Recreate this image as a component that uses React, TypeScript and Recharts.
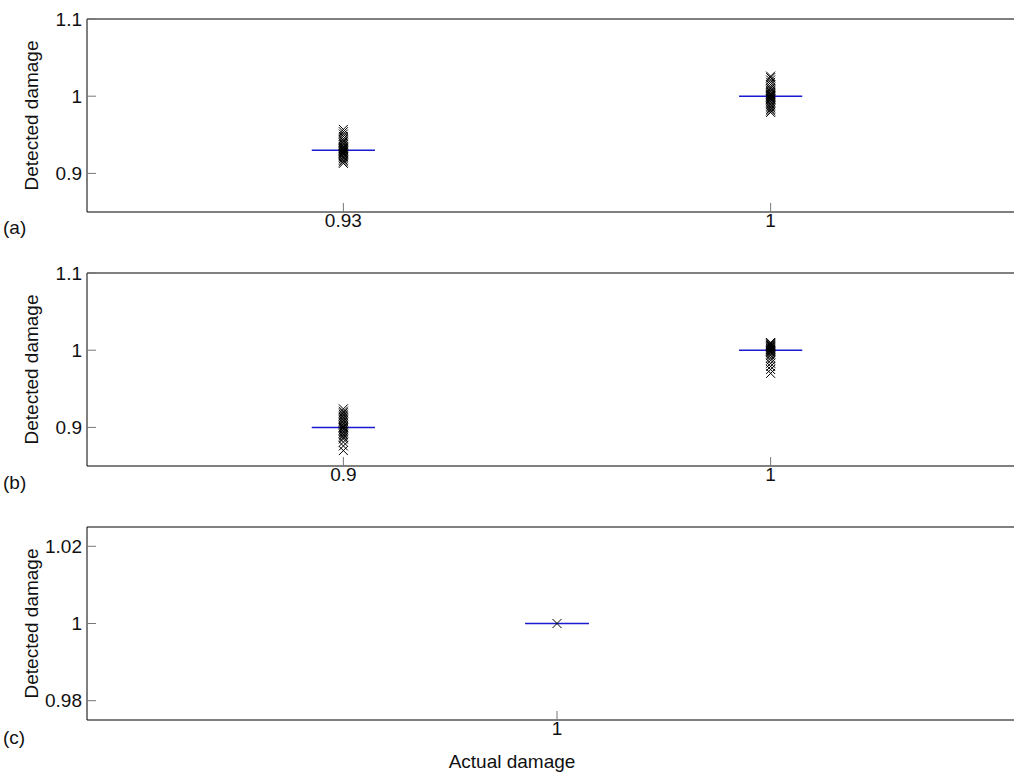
import React from 'react';
import { ComposedChart, Scatter, XAxis, YAxis, ReferenceLine } from 'recharts';

const FONT = '"Liberation Sans", Arial, Helvetica, sans-serif';
const FS = 19;

// Panel (a)
const panelAPositions = [1, 2];
const panelATickLabels = ['0.93', '1'];
const panelAMedians = [0.93, 1];
const panelAGroup1 = [0.913, 0.915, 0.917, 0.919, 0.921, 0.922, 0.924, 0.925, 0.926, 0.927, 0.928, 0.929, 0.93, 0.931, 0.932, 0.933, 0.934, 0.935, 0.937, 0.939, 0.941, 0.943, 0.945, 0.948, 0.951, 0.954, 0.957];
const panelAGroup2 = [0.979, 0.981, 0.983, 0.985, 0.987, 0.989, 0.991, 0.993, 0.995, 0.996, 0.997, 0.998, 0.999, 1.0, 1.001, 1.002, 1.003, 1.004, 1.006, 1.008, 1.01, 1.012, 1.015, 1.018, 1.021, 1.024, 1.026];

// Panel (b)
const panelBPositions = [1, 2];
const panelBTickLabels = ['0.9', '1'];
const panelBMedians = [0.9, 1];
const panelBGroup1 = [0.87, 0.876, 0.881, 0.885, 0.887, 0.889, 0.891, 0.893, 0.895, 0.897, 0.899, 0.9, 0.901, 0.903, 0.905, 0.907, 0.909, 0.911, 0.913, 0.915, 0.917, 0.919, 0.921, 0.924];
const panelBGroup2 = [0.97, 0.975, 0.979, 0.983, 0.987, 0.99, 0.993, 0.995, 0.997, 0.998, 0.999, 1.0, 1.001, 1.002, 1.003, 1.004, 1.005, 1.006, 1.007, 1.008, 1.009, 1.01];

// Panel (c)
const panelCPositions = [1];
const panelCTickLabels = ['1'];
const panelCMedians = [1];
const panelCGroup1 = [1];

const yTicksAB = [0.9, 1, 1.1];
const yTicksC = [0.98, 1, 1.02];
const yDomainAB: [number, number] = [0.85, 1.1];
const yDomainC: [number, number] = [0.975, 1.025];
const xDomainAB: [number, number] = [0.4, 2.6];
const xDomainC: [number, number] = [0.5, 1.5];

const XMark = (props: any) => {
  const { cx, cy } = props;
  if (cx == null || cy == null) return <g />;
  const s = 4.5;
  return (
    <path
      d={`M${cx - s},${cy - s}L${cx + s},${cy + s}M${cx - s},${cy + s}L${cx + s},${cy - s}`}
      stroke="#000"
      strokeWidth={1}
      fill="none"
    />
  );
};

type PanelProps = {
  top: number;
  positions: number[];
  tickLabels: string[];
  medians: number[];
  groups: number[][];
  xDomain: [number, number];
  yDomain: [number, number];
  yTicks: number[];
  boxHalf: number;
};

function Panel({ top, positions, tickLabels, medians, groups, xDomain, yDomain, yTicks, boxHalf }: PanelProps) {
  const data = groups.flatMap((g, i) => g.map((v) => ({ x: positions[i], y: v })));
  const tickStyle = { fill: '#111', fontSize: FS, fontFamily: FONT };
  return (
    <div style={{ position: 'absolute', left: 0, top, width: 1014, height: 241, overflow: 'hidden' }}>
      <ComposedChart width={1014} height={241} margin={{ top: 10, right: -13, bottom: 0, left: 0 }}>
        <XAxis
          type="number"
          dataKey="x"
          domain={xDomain}
          ticks={positions}
          interval={0}
          allowDataOverflow
          tickFormatter={(v: number) => {
            const idx = positions.indexOf(v);
            return idx >= 0 ? tickLabels[idx] : '';
          }}
          axisLine={false}
          tickSize={-9}
          tickMargin={11}
          tickLine={{ stroke: '#777' }}
          tick={tickStyle}
          height={38}
        />
        <YAxis
          type="number"
          dataKey="y"
          domain={yDomain}
          ticks={yTicks}
          interval={0}
          allowDataOverflow
          tickFormatter={(v: number) => String(v)}
          axisLine={false}
          tickSize={-9}
          tickMargin={14}
          tickLine={{ stroke: '#777' }}
          tick={tickStyle}
          width={87}
          label={{
            value: 'Detected damage',
            angle: -90,
            position: 'insideLeft',
            offset: 31,
            style: { textAnchor: 'middle', fontSize: FS, fill: '#111', fontFamily: FONT },
          }}
        />
        <ReferenceLine y={yDomain[1]} stroke="#000" strokeWidth={1} />
        <ReferenceLine y={yDomain[0]} stroke="#000" strokeWidth={1} />
        <ReferenceLine x={xDomain[0]} stroke="#000" strokeWidth={1} />
        <Scatter data={data} dataKey="y" shape={XMark} isAnimationActive={false} />
        {positions.map((p, i) => (
          <ReferenceLine
            key={i}
            segment={[
              { x: p - boxHalf, y: medians[i] },
              { x: p + boxHalf, y: medians[i] },
            ]}
            stroke="#1a1ad0"
            strokeWidth={1.5}
          />
        ))}
      </ComposedChart>
    </div>
  );
}

const textStyle: React.CSSProperties = {
  position: 'absolute',
  fontFamily: FONT,
  fontSize: FS,
  color: '#111',
  lineHeight: '20px',
  whiteSpace: 'nowrap',
};

export default function App() {
  return (
    <div
      style={{
        position: 'absolute',
        left: 0,
        top: 0,
        width: 1014,
        height: 778,
        overflow: 'hidden',
        background: '#fff',
      }}
    >
      <Panel
        top={9}
        positions={panelAPositions}
        tickLabels={panelATickLabels}
        medians={panelAMedians}
        groups={[panelAGroup1, panelAGroup2]}
        xDomain={xDomainAB}
        yDomain={yDomainAB}
        yTicks={yTicksAB}
        boxHalf={0.074}
      />
      <Panel
        top={263}
        positions={panelBPositions}
        tickLabels={panelBTickLabels}
        medians={panelBMedians}
        groups={[panelBGroup1, panelBGroup2]}
        xDomain={xDomainAB}
        yDomain={yDomainAB}
        yTicks={yTicksAB}
        boxHalf={0.074}
      />
      <Panel
        top={517}
        positions={panelCPositions}
        tickLabels={panelCTickLabels}
        medians={panelCMedians}
        groups={[panelCGroup1]}
        xDomain={xDomainC}
        yDomain={yDomainC}
        yTicks={yTicksC}
        boxHalf={0.034}
      />
      <div style={{ ...textStyle, left: 3, top: 218 }}>(a)</div>
      <div style={{ ...textStyle, left: 3, top: 473 }}>(b)</div>
      <div style={{ ...textStyle, left: 3, top: 728 }}>(c)</div>
      <div style={{ ...textStyle, left: 412, width: 200, textAlign: 'center', top: 752 }}>Actual damage</div>
    </div>
  );
}
